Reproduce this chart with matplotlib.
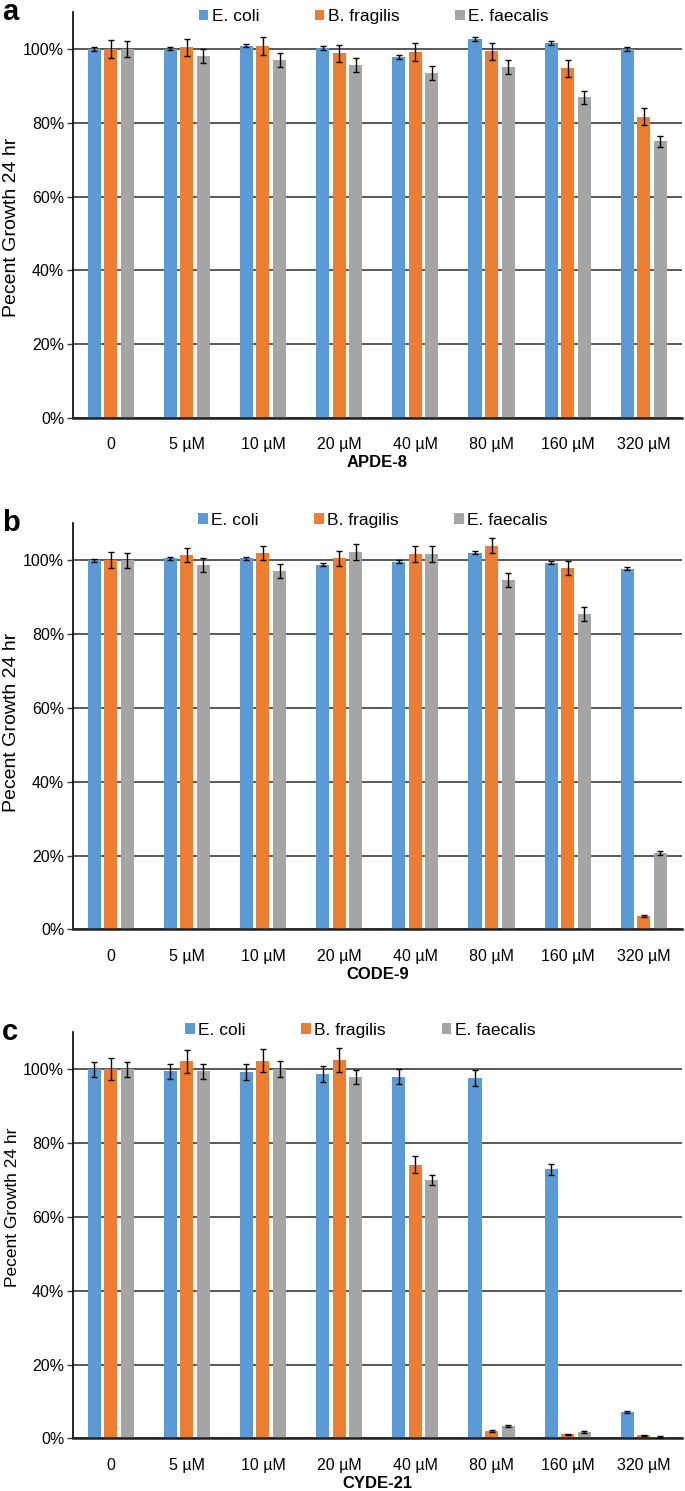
import numpy as np
import matplotlib
matplotlib.use("Agg")
import matplotlib.pyplot as plt

plt.rcParams['font.family'] = ['Liberation Sans', 'DejaVu Sans']

concs = ["0", "5 µM", "10 µM", "20 µM", "40 µM", "80 µM", "160 µM", "320 µM"]
series = ["E. coli", "B. fragilis", "E. faecalis"]
colors = ["#5B9BD5", "#ED7D31", "#A5A5A5"]

# panel a - APDE-8
apde_coli = [100, 100.1, 100.9, 100.2, 97.8, 102.7, 101.6, 100.0]
apde_coli_err = [0.5, 0.5, 0.5, 0.5, 0.5, 0.5, 0.5, 0.5]
apde_frag = [100, 100.4, 100.7, 98.8, 99.1, 99.4, 94.8, 81.6]
apde_frag_err = [2.4, 2.3, 2.4, 2.3, 2.4, 2.3, 2.3, 2.3]
apde_faec = [100, 98.2, 97.0, 95.6, 93.4, 95.1, 86.9, 75.0]
apde_faec_err = [2.1, 1.9, 2.0, 1.9, 1.9, 1.9, 1.8, 1.5]

# panel b - CODE-9
code_coli = [100, 100.5, 100.5, 98.8, 99.6, 102.0, 99.4, 97.7]
code_coli_err = [0.4, 0.4, 0.4, 0.4, 0.4, 0.4, 0.4, 0.4]
code_frag = [100, 101.4, 102.0, 100.5, 101.7, 104.0, 97.9, 3.6]
code_frag_err = [2.2, 1.9, 2.0, 2.1, 2.1, 2.1, 2.0, 0.2]
code_faec = [100, 98.8, 97.2, 102.3, 101.7, 94.7, 85.5, 20.7]
code_faec_err = [2.1, 1.9, 1.9, 2.1, 2.1, 2.0, 1.9, 0.5]

# panel c - CYDE-21
cyde_coli = [100, 99.5, 99.3, 98.7, 98.0, 97.6, 72.9, 7.2]
cyde_coli_err = [2.1, 2.0, 2.1, 2.1, 2.0, 2.1, 1.45, 0.2]
cyde_frag = [100, 102.2, 102.3, 102.5, 74.1, 2.0, 1.1, 0.8]
cyde_frag_err = [3.0, 3.1, 3.1, 3.2, 2.3, 0.2, 0.2, 0.2]
cyde_faec = [100, 99.5, 100.2, 97.9, 70.0, 3.4, 1.7, 0.4]
cyde_faec_err = [2.0, 2.0, 2.2, 2.0, 1.45, 0.2, 0.2, 0.2]

# letter, compound, values, errors, axes bottom, legend x, legend y, ylabel size, ylabel y
panels = [
    ("a", "APDE-8", [apde_coli, apde_frag, apde_faec],
     [apde_coli_err, apde_frag_err, apde_faec_err], 0.7197, 0.494, 0.989, 14, 0.47),
    ("b", "CODE-9", [code_coli, code_frag, code_faec],
     [code_coli_err, code_frag_err, code_faec_err], 0.3767, 0.493, 1.008, 14, 0.51),
    ("c", "CYDE-21", [cyde_coli, cyde_frag, cyde_faec],
     [cyde_coli_err, cyde_frag_err, cyde_faec_err], 0.0353, 0.472, 1.006, 12.5, 0.57),
]

fig = plt.figure(figsize=(6.85, 14.91), dpi=100)
x = np.arange(len(concs))
width = 0.171
offsets = [-0.217, 0, 0.217]
grid_col = "#3c3c3c"

for letter, name, vals, errs, bottom, leg_x, leg_y, ylab_fs, ylab_y in panels:
    ax = fig.add_axes([72.5 / 685, bottom, 609.5 / 685, 405.9 / 1491])
    ax.set_axisbelow(True)
    for k in range(3):
        ax.bar(x + offsets[k], vals[k], width, color=colors[k], label=series[k], zorder=2)
        ax.errorbar(x + offsets[k], vals[k], yerr=errs[k], fmt="none", ecolor="black",
                    elinewidth=1, capsize=2.2, capthick=1, zorder=3)
    ax.set_xlim(-0.5, 7.5)
    ax.set_ylim(0, 110)
    ax.set_yticks([0, 20, 40, 60, 80, 100])
    ax.set_yticklabels(["0%", "20%", "40%", "60%", "80%", "100%"], fontsize=11.5)
    ax.set_xticks(x)
    ax.set_xticklabels(concs, fontsize=11.5)
    ax.tick_params(axis="x", length=0, pad=14)
    ax.tick_params(axis="y", length=4, width=1, color=grid_col, pad=2)
    ax.yaxis.grid(True, color=grid_col, linewidth=1.2, zorder=1)
    for s in ["top", "right"]:
        ax.spines[s].set_visible(False)
    ax.spines["left"].set_color("black")
    ax.spines["left"].set_linewidth(1.2)
    ax.spines["bottom"].set_color("#222222")
    ax.spines["bottom"].set_linewidth(1.8)
    ax.set_xlabel(name, fontsize=12, fontweight="bold", labelpad=2)
    ax.set_ylabel("Pecent Growth 24 hr", fontsize=ylab_fs)
    ax.yaxis.set_label_coords(-0.086, ylab_y)
    ax.legend(loc="center", bbox_to_anchor=(leg_x, leg_y), ncol=3, frameon=False,
              fontsize=12.5, handlelength=0.55, handleheight=0.55, handletextpad=0.2,
              columnspacing=3.2)
    fig.text(2 / 685, bottom + 398 / 1491, letter, fontsize=21,
             fontweight="bold", va="baseline", ha="left")

fig.savefig("out.png", dpi=100)
